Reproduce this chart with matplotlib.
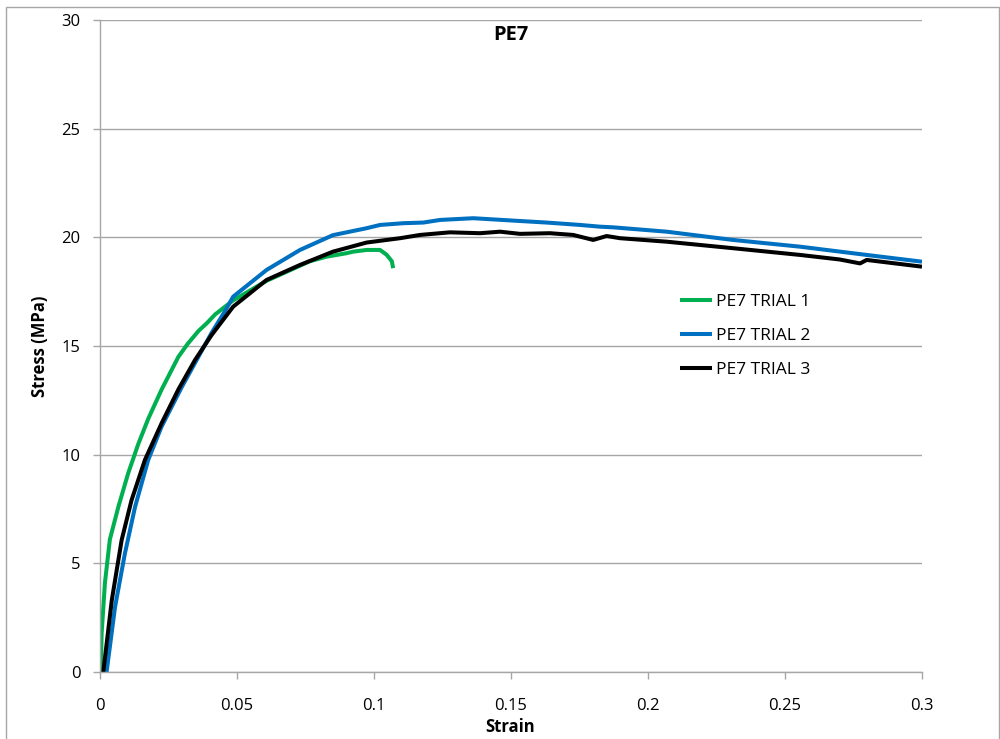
import matplotlib
matplotlib.use("Agg")
import matplotlib.pyplot as plt
from matplotlib.patches import Rectangle

plt.rcParams['font.family'] = ['Open Sans', 'DejaVu Sans']

# ---- data ----
trial1_strain = [0.0003, 0.0006, 0.0018, 0.0036, 0.0067, 0.0103, 0.0140, 0.0176,
                 0.0225, 0.0286, 0.0320, 0.0360, 0.0390, 0.0420, 0.0486, 0.0608,
                 0.0766, 0.0827, 0.0900, 0.0924, 0.0973, 0.1022, 0.1046, 0.1065, 0.1070]
trial1_stress = [0.0, 1.8, 4.1, 6.1, 7.6, 9.15, 10.5, 11.65,
                 13.0, 14.5, 15.1, 15.7, 16.05, 16.45, 17.1, 18.0,
                 18.9, 19.11, 19.27, 19.34, 19.42, 19.42, 19.2, 18.9, 18.58]

trial2_strain = [0.0024, 0.0055, 0.0091, 0.0128, 0.0176, 0.0225, 0.0298, 0.0359,
                 0.0407, 0.0456, 0.0486, 0.0608, 0.0730, 0.0850, 0.0973, 0.1022,
                 0.1107, 0.1180, 0.1241, 0.1362, 0.1508, 0.1630, 0.1752, 0.1825,
                 0.1873, 0.2068, 0.2310, 0.2555, 0.2798, 0.3000]
trial2_stress = [0.0, 3.0, 5.46, 7.6, 9.76, 11.3, 13.1, 14.5,
                 15.6, 16.6, 17.27, 18.5, 19.42, 20.1, 20.42, 20.57,
                 20.65, 20.68, 20.8, 20.88, 20.77, 20.68, 20.57, 20.49,
                 20.46, 20.26, 19.88, 19.57, 19.19, 18.88]

trial3_strain = [0.0012, 0.0043, 0.0079, 0.0115, 0.0164, 0.0225, 0.0286, 0.0347,
                 0.0407, 0.0486, 0.0608, 0.0730, 0.0850, 0.0973, 0.1095, 0.1168,
                 0.1277, 0.1387, 0.1460, 0.1533, 0.1642, 0.1727, 0.1800, 0.1849,
                 0.1898, 0.2068, 0.2310, 0.2555, 0.2700, 0.2774, 0.2798, 0.3000]
trial3_stress = [0.0, 3.3, 6.07, 7.9, 9.76, 11.45, 13.0, 14.36,
                 15.5, 16.81, 18.04, 18.73, 19.34, 19.76, 19.96, 20.11,
                 20.23, 20.19, 20.26, 20.16, 20.19, 20.11, 19.88, 20.06,
                 19.96, 19.8, 19.5, 19.19, 18.98, 18.8, 18.96, 18.65]

series_labels = ['PE7 TRIAL 1', 'PE7 TRIAL 2', 'PE7 TRIAL 3']
series_colors = ['#00b050', '#0070c0', '#000000']
x_ticks = [0, 0.05, 0.1, 0.15, 0.2, 0.25, 0.3]
x_tick_labels = ['0', '0.05', '0.1', '0.15', '0.2', '0.25', '0.3']
y_ticks = [0, 5, 10, 15, 20, 25, 30]

# ---- figure ----
fig = plt.figure(figsize=(10, 7.39), dpi=100)
ax = fig.add_axes([0.100, 67 / 739, 0.822, 652 / 739])

grid_c = '#a6a6a6'
data = [(trial1_strain, trial1_stress), (trial2_strain, trial2_stress),
        (trial3_strain, trial3_stress)]
for (xs, ys), lab, col in zip(data, series_labels, series_colors):
    ax.plot(xs, ys, color=col, lw=2.9, label=lab, solid_joinstyle='round',
            solid_capstyle='butt', clip_on=True)

ax.set_xlim(0, 0.3)
ax.set_ylim(0, 30)
ax.set_xticks(x_ticks)
ax.set_xticklabels(x_tick_labels)
ax.set_yticks(y_ticks)
ax.yaxis.grid(True, color=grid_c, lw=1)
ax.set_axisbelow(True)

for s in ['top', 'right']:
    ax.spines[s].set_visible(False)
for s in ['left', 'bottom']:
    ax.spines[s].set_color(grid_c)
    ax.spines[s].set_linewidth(1)

ax.tick_params(axis='both', colors=grid_c, labelcolor='black', labelsize=12,
               length=5, width=1, direction='out')
ax.tick_params(axis='x', pad=14)
ax.tick_params(axis='y', pad=9)

ax.set_xlabel('Strain', fontsize=12, fontweight='bold')
ax.xaxis.set_label_coords((510 - 100) / 822, (672 - 727) / 652)
ax.xaxis.label.set_va('center')
ax.set_ylabel('Stress (MPa)', fontsize=12, fontweight='bold')
ax.yaxis.set_label_coords((39.5 - 100) / 822, 0.5)
ax.yaxis.label.set_va('center')

ax.text((511 - 100) / 822, (672 - 34.5) / 652, 'PE7', transform=ax.transAxes,
        ha='center', va='center', fontsize=14.5, fontweight='bold')

leg = ax.legend(loc='upper left', bbox_to_anchor=((680 - 100) / 822, (672 - 294) / 652),
                frameon=False, fontsize=12.5, handlelength=1.85, handletextpad=0.2,
                labelspacing=1.03, borderpad=0, borderaxespad=0)

# outer chart border
fig.add_artist(Rectangle((6 / 1000, -0.02), 993 / 1000, 1 - 7 / 739 + 0.02,
                         transform=fig.transFigure, fill=False,
                         edgecolor='#a6a6a6', lw=1))

fig.savefig('out.png', dpi=100)
